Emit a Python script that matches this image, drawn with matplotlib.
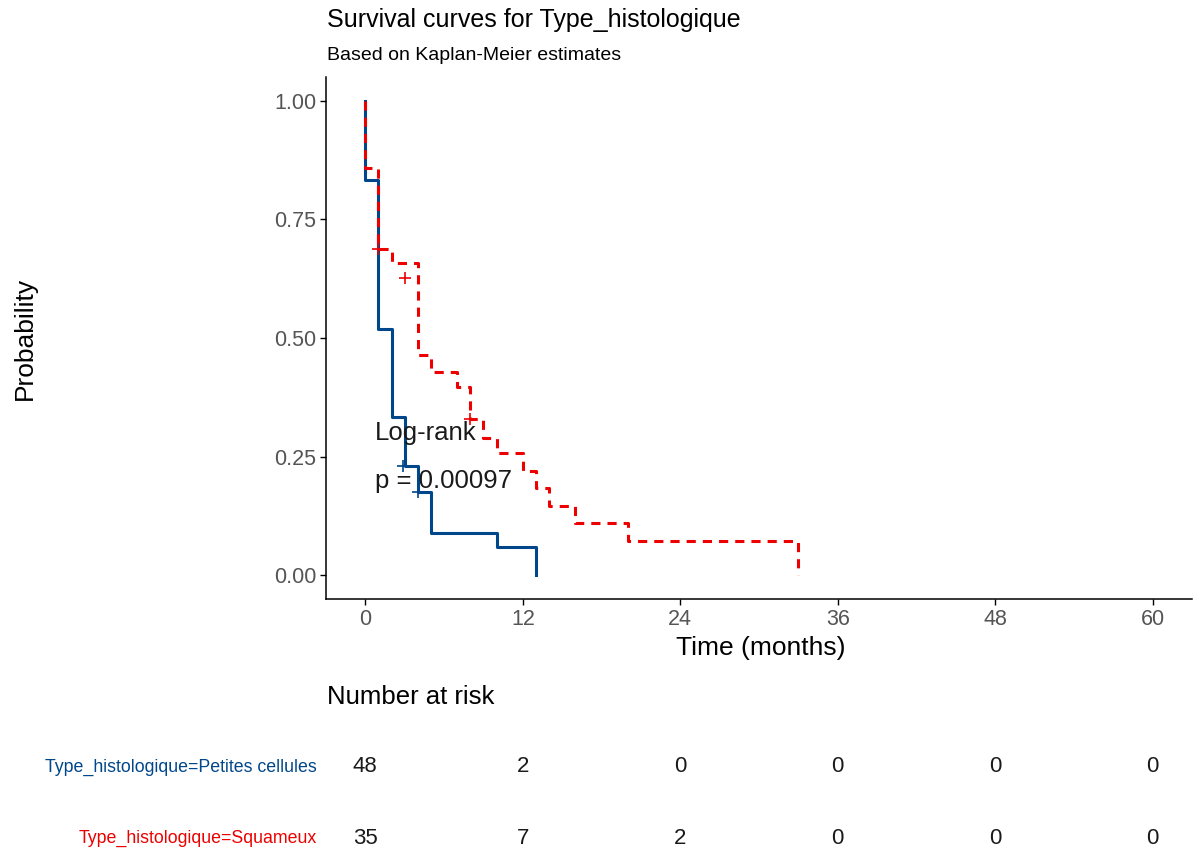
import numpy as np
import matplotlib
matplotlib.use("Agg")
import matplotlib.pyplot as plt

plt.rcParams['font.family'] = ['Liberation Sans', 'DejaVu Sans']

# Kaplan-Meier steps
time_pc = [0, 0, 1, 2, 3, 4, 5, 10, 13]
surv_pc = [1.0, 0.833, 0.52, 0.333, 0.23, 0.175, 0.09, 0.059, 0.0]
cens_t_pc = [2.9, 4.0]
cens_s_pc = [0.23, 0.175]

time_sq = [0, 0, 1, 2, 4, 5, 7, 8, 9, 10, 12, 13, 14, 16, 20, 33]
surv_sq = [1.0, 0.859, 0.688, 0.658, 0.464, 0.428, 0.397, 0.33, 0.29, 0.257,
           0.22, 0.184, 0.146, 0.11, 0.072, 0.0]
cens_t_sq = [1, 3, 8]
cens_s_sq = [0.688, 0.627, 0.33]

strata = ["Type_histologique=Petites cellules", "Type_histologique=Squameux"]
colors = ["#00468B", "#ED0000"]
risk_times = [0, 12, 24, 36, 48, 60]
risk_pc = [48, 2, 0, 0, 0, 0]
risk_sq = [35, 7, 2, 0, 0, 0]

W, H = 1193, 851
fig = plt.figure(figsize=(W / 100, H / 100), dpi=100)

def box(x0, y0, x1, y1):
    return [x0 / W, 1 - y1 / H, (x1 - x0) / W, (y1 - y0) / H]

ax = fig.add_axes(box(326, 77, 1192, 599))
ax.step(time_pc, surv_pc, where='post', color=colors[0], lw=2.2)
ax.step(time_sq, surv_sq, where='post', color=colors[1], lw=2.2,
        dashes=(3, 2.3))
ax.plot(cens_t_pc, cens_s_pc, ls='none', marker='+', ms=9, mew=1.2,
        color=colors[0])
ax.plot(cens_t_sq, cens_s_sq, ls='none', marker='+', ms=9, mew=1.2,
        color=colors[1])

ax.set_xlim(-3, 63)
ax.set_ylim(-0.05, 1.05)
ax.set_xticks(risk_times)
ax.set_yticks([0, 0.25, 0.5, 0.75, 1.0])
ax.set_yticklabels(["0.00", "0.25", "0.50", "0.75", "1.00"])
ax.tick_params(labelsize=15.5, labelcolor="#555555", length=4, width=1,
               pad=3)
for s in ['top', 'right']:
    ax.spines[s].set_visible(False)
for s in ['left', 'bottom']:
    ax.spines[s].set_linewidth(1.1)

fig.text(761 / W, 1 - 648 / H, "Time (months)", fontsize=19,
         ha='center', va='center')
fig.text(25 / W, 1 - 338 / H, "Probability", fontsize=19, rotation=90,
         ha='center', va='center')

ax.text(0.76, 0.30, "Log-rank", fontsize=18.5, va='center', ha='left',
        color="#1A1A1A")
ax.text(0.76, 0.198, "p = 0.00097", fontsize=18.5, va='center', ha='left',
        color="#1A1A1A")

fig.text(327 / W, 1 - 20 / H, "Survival curves for Type_histologique",
         fontsize=18, va='center', ha='left')
fig.text(327 / W, 1 - 55 / H, "Based on Kaplan-Meier estimates",
         fontsize=14, va='center', ha='left')

# risk table
rt = fig.add_axes(box(326, 730, 1192, 851))
rt.set_xlim(-3, 63)
rt.set_ylim(0, 2)
rt.axis('off')
fig.text(327 / W, 1 - 697 / H, "Number at risk", fontsize=18.5,
         va='center', ha='left')
rows = [risk_pc, risk_sq]
row_y = [767, 838]
for i, (vals, yy) in enumerate(zip(rows, row_y)):
    yd = 2 - (yy - 730) / (851 - 730) * 2
    for t, v in zip(risk_times, vals):
        rt.text(t, yd, str(v), fontsize=16, ha='center', va='center',
                color="#1A1A1A")
    fig.text(317 / W, 1 - yy / H, strata[i], fontsize=12.8, ha='right',
             va='center', color=colors[i])

fig.savefig("out.png", dpi=100)
